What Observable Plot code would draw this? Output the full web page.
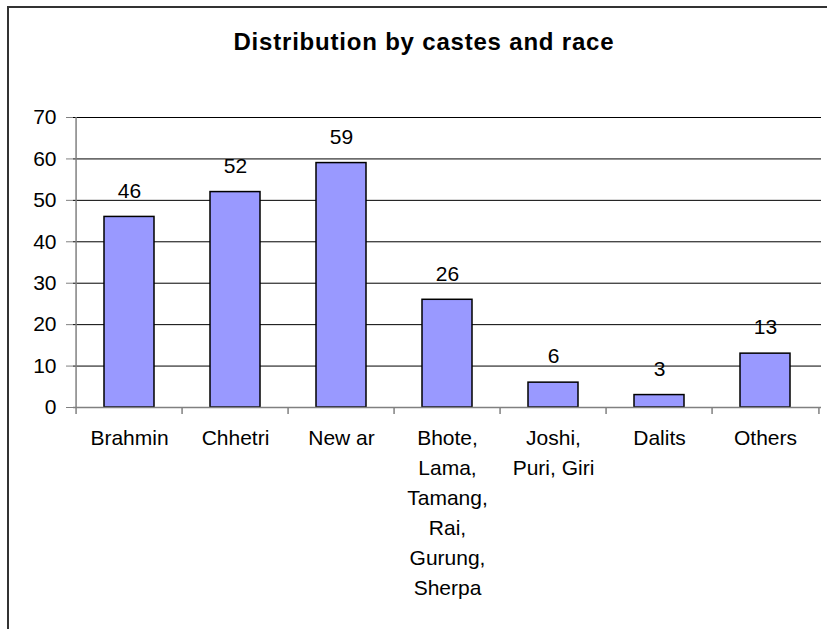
<!DOCTYPE html>
<html>
<head>
<meta charset="utf-8">
<script src="https://cdn.jsdelivr.net/npm/d3@7"></script>
<script src="https://cdn.jsdelivr.net/npm/@observablehq/plot@0.6"></script>
<style>
  body { margin: 0; background: #fff; overflow: hidden; }
</style>
</head>
<body>
<div id="chart"></div>
<script>
// Respondents by caste / ethnic group
const title = "Distribution by castes and race";
const categories = ["Brahmin", "Chhetri", "New ar", "Bhote", "Joshi", "Dalits", "Others"];
const categoryLabels = [
  "Brahmin",
  "Chhetri",
  "New ar",
  "Bhote,\nLama,\nTamang,\nRai,\nGurung,\nSherpa",
  "Joshi,\nPuri, Giri",
  "Dalits",
  "Others"
];
const counts = [46, 52, 59, 26, 6, 3, 13];
const yTicks = [0, 10, 20, 30, 40, 50, 60, 70];

const rows = categories.map((c, i) => ({category: c, label: categoryLabels[i], count: counts[i]}));

const W = 827, H = 629;
const mLeft = 73, mRight = 6, mTop = 117, mBottom = 222;
const step = (W - mLeft - mRight) / categories.length;
const axisGray = "#808080";
const font = "'Liberation Sans', Arial, sans-serif";

const chart = Plot.plot({
  width: W,
  height: H,
  marginLeft: mLeft,
  marginRight: mRight,
  marginTop: mTop,
  marginBottom: mBottom,
  style: {fontFamily: font, fontSize: "21px", color: "#000", background: "#fff"},
  x: {domain: categories, padding: 0, axis: null},
  y: {domain: [0, 70], axis: null, label: null},
  marks: [
    // horizontal gridlines
    Plot.gridY(yTicks, {stroke: "#000", strokeOpacity: 1, strokeWidth: 1}),
    // y axis ticks and labels
    Plot.axisY(yTicks, {label: null, tickSize: 7, tickPadding: 10, stroke: axisGray, fill: "#000", fontSize: 21}),
    // bars
    Plot.barY(rows, {x: "category", y: "count", fill: "#9999FF", stroke: "#000", strokeWidth: 1.5, insetLeft: 28, insetRight: 28}),
    // value labels
    Plot.text(rows, {x: "category", y: "count", text: d => String(d.count), dy: -26, fill: "#000", fontSize: 21}),
    // y axis line
    Plot.ruleX([categories[0]], {x: d => d, y1: 0, y2: 70, dx: -step / 2, stroke: axisGray, strokeWidth: 1.5}),
    // x axis line
    Plot.ruleY([0], {stroke: axisGray, strokeWidth: 1.5}),
    // category boundary tick marks
    Plot.ruleX(categories, {x: d => d, y1: 0, y2: 0, insetBottom: -7, dx: -step / 2, stroke: axisGray, strokeWidth: 1.5}),
    Plot.ruleX([categories[categories.length - 1]], {x: d => d, y1: 0, y2: 0, insetBottom: -7, dx: step / 2, stroke: axisGray, strokeWidth: 1.5}),
    // category labels
    Plot.text(rows, {x: "category", text: "label", frameAnchor: "bottom", lineAnchor: "top", dy: 16.5, lineHeight: 30 / 21, fill: "#000", fontSize: 21}),
    // chart title
    Plot.text([title], {text: d => d, frameAnchor: "top", lineAnchor: "middle", dx: -23.6, dy: -75.5, fontWeight: "bold", fontSize: 24, fill: "#000", className: "chart-title"})
  ]
});

d3.select(chart).selectAll(".chart-title text").style("letter-spacing", "0.8px");

// chart-area border: only its left and top edges fall inside the canvas
d3.select(chart).append("path")
  .attr("d", `M8,${H + 5}V7H${W + 5}`)
  .attr("fill", "none")
  .attr("stroke", "#333")
  .attr("stroke-width", 2);

document.getElementById("chart").appendChild(chart);
</script>
</body>
</html>
